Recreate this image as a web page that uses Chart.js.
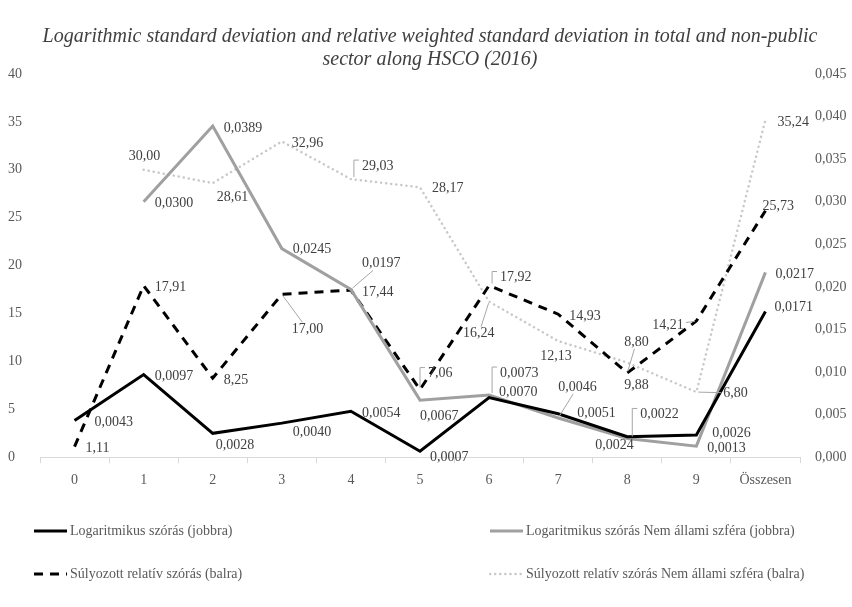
<!DOCTYPE html>
<html>
<head>
<meta charset="utf-8">
<script src="https://cdn.jsdelivr.net/npm/chart.js@4/dist/chart.umd.min.js"></script>
<style>
  body { margin: 0; background: #fff; }
  #wrap { position: relative; width: 852px; height: 607px; }
  .legend-item { position: absolute; font: 14px "Liberation Serif", serif; color: #595959; display: flex; align-items: center; white-space: nowrap; }
  .legend-item svg { margin-right: 2px; }
</style>
</head>
<body>
<div id="wrap">
  <canvas id="chart" width="852" height="607"></canvas>
  <div id="legend"></div>
</div>
<script>
// data
const categories = ['0', '1', '2', '3', '4', '5', '6', '7', '8', '9', 'Összesen'];
const logTotal = [0.0043, 0.0097, 0.0028, 0.0040, 0.0054, 0.0007, 0.0070, 0.0051, 0.0024, 0.0026, 0.0171];
const logNonPublic = [null, 0.0300, 0.0389, 0.0245, 0.0197, 0.0067, 0.0073, 0.0046, 0.0022, 0.0013, 0.0217];
const relTotal = [1.11, 17.91, 8.25, 17.00, 17.44, 7.06, 17.92, 14.93, 8.80, 14.21, 25.73];
const relNonPublic = [null, 30.00, 28.61, 32.96, 29.03, 28.17, 16.24, 12.13, 9.88, 6.80, 35.24];
const leftTicks = [0, 5, 10, 15, 20, 25, 30, 35, 40];
const rightTicks = [0, 0.005, 0.010, 0.015, 0.020, 0.025, 0.030, 0.035, 0.040, 0.045];

const titleLines = [
  'Logarithmic standard deviation and relative weighted standard deviation in total and non-public',
  'sector along HSCO (2016)'
];

const FONT = '"Liberation Serif", serif';

// where each value label sits relative to its point: [dx, dy, leader]
const labelOffsets = [
  [[20, 2], [11, 2], [3, 12], [11, 9], [11, 2], [10, 6], [10, -5], [19, 0], [-32, 9], [16, -2], [9, -4]],
  [null, [11, 2], [11, 2], [11, 1], [11, -26, 'line'], [0, 16], [11, -22, 'b'], [0, -31, 'line'], [13, -24, 'b'], [11, 2], [10, 2]],
  [[11, 2], [11, 2], [11, 2], [10, 35, 'line'], [11, 2], [8, -16, 'b'], [11, -8, 'b'], [11, 2], [-3, -31, 'line'], [-44, 4, 'line'], [-3, -4]],
  [null, [-15, -13], [4, 14], [10, 2], [11, -13, 'b'], [12, 1], [-26, 32, 'line'], [-18, 15], [-3, 23], [27, 1, 'line'], [12, 3]]
];
const labelDecimals = [4, 4, 2, 2];

function fmt(v, d) {
  return v.toFixed(d).replace('.', ',');
}

const labelPlugin = {
  id: 'valueLabels',
  afterDatasetsDraw(chart) {
    const ctx = chart.ctx;
    ctx.save();
    ctx.font = '14px ' + FONT;
    ctx.textBaseline = 'middle';
    ctx.textAlign = 'left';
    chart.data.datasets.forEach((ds, di) => {
      const meta = chart.getDatasetMeta(di);
      meta.data.forEach((pt, i) => {
        const v = ds.data[i];
        const off = labelOffsets[di][i];
        if (v == null || !off) return;
        const text = fmt(v, labelDecimals[di]);
        const lx = pt.x + off[0], ly = pt.y + off[1];
        const w = ctx.measureText(text).width;
        ctx.strokeStyle = '#A6A6A6';
        ctx.lineWidth = 1;
        if (off[2] == 'b') {
          const x0 = lx - 8;
          ctx.beginPath();
          ctx.moveTo(x0, pt.y - 2);
          ctx.lineTo(x0, ly - 6);
          ctx.lineTo(x0 + 5, ly - 6);
          ctx.stroke();
        } else if (off[2] == 'line') {
          // line from point towards label centre, stopping at label box
          const l = lx - 2, r = lx + w + 2, t = ly - 7, b = ly + 7;
          const cx = (l + r) / 2, cy = ly;
          const ddx = cx - pt.x, ddy = cy - pt.y;
          let tx = ddx > 0 ? (l - pt.x) / ddx : ddx < 0 ? (r - pt.x) / ddx : -Infinity;
          let ty = ddy > 0 ? (t - pt.y) / ddy : ddy < 0 ? (b - pt.y) / ddy : -Infinity;
          const te = Math.max(tx, ty);
          if (te > 0) {
            ctx.beginPath();
            ctx.moveTo(pt.x + ddx * 0.05, pt.y + ddy * 0.05);
            ctx.lineTo(pt.x + ddx * te, pt.y + ddy * te);
            ctx.stroke();
          }
        }
        ctx.fillStyle = '#404040';
        ctx.fillText(text, lx, ly);
      });
    });
    ctx.restore();
  }
};

const datasets = [
  {
    label: 'Logaritmikus szórás (jobbra)',
    data: logTotal, yAxisID: 'yRight',
    borderColor: '#000000', borderWidth: 3, pointRadius: 0, tension: 0
  },
  {
    label: 'Logaritmikus szórás Nem állami szféra (jobbra)',
    data: logNonPublic, yAxisID: 'yRight',
    borderColor: '#A0A0A0', borderWidth: 3, pointRadius: 0, tension: 0
  },
  {
    label: 'Súlyozott relatív szórás (balra)',
    data: relTotal, yAxisID: 'yLeft',
    borderColor: '#000000', borderWidth: 3, borderDash: [9, 7], pointRadius: 0, tension: 0
  },
  {
    label: 'Súlyozott relatív szórás Nem állami szféra (balra)',
    data: relNonPublic, yAxisID: 'yLeft',
    borderColor: '#C8C8C8', borderWidth: 2.5, borderDash: [0.1, 5], borderCapStyle: 'round', pointRadius: 0, tension: 0
  }
];

new Chart(document.getElementById('chart'), {
  type: 'line',
  data: { labels: categories, datasets: datasets },
  options: {
    responsive: false,
    animation: false,
    layout: { padding: { left: 8, right: 0, top: 0, bottom: 109 } },
    plugins: {
      legend: { display: false },
      tooltip: { enabled: false },
      title: {
        display: true,
        text: titleLines,
        color: '#404040',
        font: { family: FONT, size: 20, style: 'italic', weight: 'normal', lineHeight: 1.15 },
        padding: { top: 25, bottom: 3 }
      }
    },
    scales: {
      x: {
        offset: true,
        grid: { display: true, drawOnChartArea: false, color: '#D9D9D9', tickLength: 6, offset: true },
        border: { color: '#D9D9D9' },
        ticks: { color: '#595959', font: { family: FONT, size: 14 }, padding: 9 }
      },
      yLeft: {
        position: 'left', min: 0, max: 40,
        grid: { display: false, drawTicks: false },
        border: { display: false },
        afterBuildTicks: (s) => { s.ticks = leftTicks.map(v => ({ value: v })); },
        afterFit: (s) => { s.width = 32; },
        ticks: { color: '#595959', font: { family: FONT, size: 14 }, crossAlign: 'far' }
      },
      yRight: {
        position: 'right', min: 0, max: 0.045,
        grid: { display: false, drawTicks: false },
        border: { display: false },
        afterBuildTicks: (s) => { s.ticks = rightTicks.map(v => ({ value: v })); },
        afterFit: (s) => { s.width = 52; },
        ticks: { color: '#595959', font: { family: FONT, size: 14 }, padding: 15, callback: (v) => fmt(v, 3) }
      }
    }
  },
  plugins: [labelPlugin]
});

// legend in two columns below the plot
const legendPos = [
  { left: 33, top: 523, dash: '', color: '#000000', w: 3 },
  { left: 489, top: 523, dash: '', color: '#A0A0A0', w: 3 },
  { left: 33, top: 566, dash: '9,7', color: '#000000', w: 3 },
  { left: 489, top: 566, dash: '0.1,5', color: '#C8C8C8', w: 2.5 }
];
const legendBox = document.getElementById('legend');
datasets.forEach((ds, i) => {
  const p = legendPos[i];
  const item = document.createElement('div');
  item.className = 'legend-item';
  item.style.left = p.left + 'px';
  item.style.top = p.top + 'px';
  item.innerHTML = '<svg width="35" height="6"><line x1="1" y1="3" x2="34" y2="3" stroke="' + p.color +
    '" stroke-width="' + p.w + '"' + (p.dash ? ' stroke-dasharray="' + p.dash + '" stroke-linecap="' + (i == 3 ? 'round' : 'butt') + '"' : '') +
    '/></svg><span>' + ds.label + '</span>';
  legendBox.appendChild(item);
});
</script>
</body>
</html>
